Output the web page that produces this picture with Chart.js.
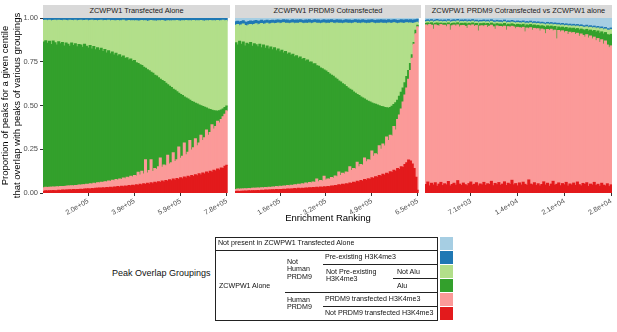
<!DOCTYPE html>
<html>
<head>
<meta charset="utf-8">
<script src="https://cdn.jsdelivr.net/npm/chart.js"></script>
<style>
body { margin: 0; background: #fff; font-family: "Liberation Sans", Arial, sans-serif; }
#fig { position: relative; width: 617px; height: 332px; overflow: hidden; }
canvas { position: absolute; }
.strip { position: absolute; top: 5px; height: 12.5px; background: #d9d9d9; color: #1a1a1a;
         font-size: 7.4px; line-height: 12.5px; text-align: center; white-space: nowrap; }
.t { position: absolute; font-size: 7.1px; line-height: 7.3px; color: #111; white-space: nowrap; }
.h { position: absolute; height: 0; border-top: 1px solid #222; }
.sw { position: absolute; left: 440px; width: 13px; height: 13px; }
</style>
</head>
<body>
<div id="fig">
  <div class="strip" style="left:43px;width:187px;">ZCWPW1 Transfected Alone</div>
  <div class="strip" style="left:235px;width:186px;">ZCWPW1 PRDM9 Cotransfected</div>
  <div class="strip" style="left:425px;width:187px;">ZCWPW1 PRDM9 Cotransfected vs ZCWPW1 alone</div>

  <canvas id="panel1" width="232" height="215" style="left:0;top:10px;"></canvas>
  <canvas id="panel2" width="190" height="215" style="left:233px;top:10px;"></canvas>
  <canvas id="panel3" width="194" height="215" style="left:423px;top:10px;"></canvas>

  <div style="position:absolute;left:228px;width:200px;top:212px;text-align:center;font-size:9.5px;color:#000;">Enrichment Ranking</div>

  <!-- legend table -->
  <div style="position:absolute;left:112px;top:268px;font-size:9px;color:#111;">Peak Overlap Groupings</div>
  <div style="position:absolute;left:215px;top:237px;width:221px;height:82px;border:1px solid #222;"></div>
  <div class="h" style="left:215px;width:222px;top:250px;"></div>
  <div class="h" style="left:323px;width:114px;top:264px;"></div>
  <div class="h" style="left:393px;width:44px;top:278px;"></div>
  <div class="h" style="left:285px;width:152px;top:292px;border-top-width:1.5px;"></div>
  <div class="h" style="left:323px;width:114px;top:306px;"></div>

  <div class="t" style="left:218px;top:240px;">Not present in ZCWPW1 Transfected Alone</div>
  <div class="t" style="left:219px;top:283px;">ZCWPW1 Alone</div>
  <div class="t" style="left:287px;top:259px;">Not<br>Human<br>PRDM9</div>
  <div class="t" style="left:287px;top:297px;">Human<br>PRDM9</div>
  <div class="t" style="left:325px;top:254px;">Pre-existing H3K4me3</div>
  <div class="t" style="left:326px;top:269px;">Not Pre-existing<br>H3K4me3</div>
  <div class="t" style="left:397px;top:269px;">Not Alu</div>
  <div class="t" style="left:397px;top:283px;">Alu</div>
  <div class="t" style="left:325px;top:296px;">PRDM9 transfected H3K4me3</div>
  <div class="t" style="left:325px;top:310px;">Not PRDM9 transfected H3K4me3</div>

  <div class="sw" style="top:237px;background:#a6cee3;"></div>
  <div class="sw" style="top:251px;background:#1f78b4;"></div>
  <div class="sw" style="top:265px;background:#b2df8a;"></div>
  <div class="sw" style="top:279px;background:#33a02c;"></div>
  <div class="sw" style="top:293px;background:#fb9a99;"></div>
  <div class="sw" style="top:307px;background:#e31a1c;"></div>
</div>

<script>
// group names, bottom of the stack first
const groupNames = [
  "Not PRDM9 transfected H3K4me3",
  "PRDM9 transfected H3K4me3",
  "Alu",
  "Not Alu",
  "Pre-existing H3K4me3",
  "Not present in ZCWPW1 Transfected Alone"
];
const groupColors = ["#e31a1c", "#fb9a99", "#33a02c", "#b2df8a", "#1f78b4", "#a6cee3"];

// tick labels of each facet
const p1TickLabels = ["2.0e+05", "3.9e+05", "5.9e+05", "7.8e+05"];
const p2TickLabels = ["1.6e+05", "3.2e+05", "4.9e+05", "6.5e+05"];
const p3TickLabels = ["7.1e+03", "1.4e+04", "2.1e+04", "2.8e+04"];
const xTickCentiles = [25, 50, 75, 100];
const yTickValues = [0, 0.25, 0.5, 0.75, 1];

// centiles 1..100
const centiles = [];
for (let i = 1; i <= 100; i++) centiles.push(i);

// Cumulative tops of each layer, per centile.
// ---- panel 1: ZCWPW1 Transfected Alone
const p1RedTop = [
  .010,.012,.011,.013,.012,.014,.013,.012,.015,.014,
  .016,.015,.017,.016,.018,.017,.019,.018,.020,.019,
  .021,.020,.023,.022,.024,.021,.025,.024,.027,.026,
  .028,.027,.030,.026,.031,.029,.033,.030,.034,.032,
  .036,.033,.038,.035,.040,.037,.042,.039,.044,.041,
  .046,.043,.049,.045,.052,.048,.055,.050,.058,.053,
  .061,.056,.064,.059,.068,.062,.071,.066,.075,.069,
  .079,.073,.083,.077,.087,.081,.091,.085,.095,.089,
  .099,.094,.104,.098,.109,.103,.114,.108,.119,.113,
  .124,.118,.130,.125,.136,.131,.143,.140,.152,.158
];
const p1PinkTop = [
  .030,.032,.031,.033,.032,.034,.033,.035,.034,.036,
  .037,.036,.038,.040,.039,.041,.040,.043,.042,.045,
  .044,.047,.046,.049,.048,.052,.050,.055,.053,.058,
  .056,.061,.059,.064,.062,.068,.065,.072,.069,.076,
  .073,.080,.077,.085,.081,.090,.086,.095,.091,.100,
  .096,.118,.102,.124,.108,.190,.114,.128,.190,.122,
  .140,.134,.150,.200,.146,.160,.155,.215,.165,.172,
  .230,.180,.190,.262,.198,.210,.285,.218,.232,.300,
  .245,.258,.310,.270,.285,.330,.300,.315,.360,.330,
  .345,.390,.365,.380,.410,.400,.420,.435,.450,.470
];
const p1DkGreenTop = [
  .862,.870,.855,.866,.848,.868,.858,.845,.864,.852,
  .860,.840,.856,.850,.838,.857,.842,.852,.835,.848,
  .845,.832,.850,.838,.828,.842,.822,.836,.818,.830,
  .815,.826,.808,.820,.800,.812,.795,.805,.788,.798,
  .782,.790,.775,.782,.768,.773,.760,.765,.752,.756,
  .744,.740,.732,.728,.718,.712,.704,.698,.690,.684,
  .672,.668,.658,.650,.642,.636,.626,.618,.610,.602,
  .592,.586,.578,.570,.562,.556,.548,.542,.536,.530,
  .522,.518,.512,.508,.502,.498,.494,.490,.485,.480,
  .476,.472,.470,.468,.466,.470,.474,.480,.488,.496
];
const p1LtGreenTop = [
  .985,.987,.984,.986,.983,.985,.987,.984,.986,.985,
  .984,.986,.985,.983,.987,.985,.984,.986,.983,.985,
  .986,.984,.985,.987,.983,.985,.986,.984,.985,.982,
  .985,.986,.983,.985,.984,.986,.982,.985,.984,.983,
  .985,.982,.984,.986,.983,.981,.985,.983,.984,.982,
  .984,.981,.983,.985,.982,.984,.980,.983,.985,.982,
  .983,.981,.984,.982,.985,.983,.980,.984,.982,.983,
  .984,.982,.985,.983,.981,.984,.982,.985,.983,.984,
  .982,.985,.983,.984,.982,.985,.983,.981,.984,.983,
  .985,.982,.984,.983,.985,.982,.984,.986,.983,.985
];
const p1DkBlueTop = [
  1,1,1,1,1,1,1,1,1,1, 1,1,1,1,1,1,1,1,1,1,
  1,1,1,1,1,1,1,1,1,1, 1,1,1,1,1,1,1,1,1,1,
  1,1,1,1,1,1,1,1,1,1, 1,1,1,1,1,1,1,1,1,1,
  1,1,1,1,1,1,1,1,1,1, 1,1,1,1,1,1,1,1,1,1,
  1,1,1,1,1,1,1,1,1,1, 1,1,1,1,1,1,1,1,1,1
];

// ---- panel 2: ZCWPW1 PRDM9 Cotransfected
const p2RedTop = [
  .008,.009,.008,.010,.009,.011,.010,.012,.011,.012,
  .013,.012,.014,.013,.015,.014,.016,.015,.017,.016,
  .018,.017,.019,.018,.020,.019,.021,.020,.022,.021,
  .023,.022,.025,.023,.026,.024,.027,.025,.028,.027,
  .029,.028,.031,.029,.032,.030,.034,.031,.035,.033,
  .037,.035,.040,.038,.043,.041,.046,.044,.050,.047,
  .053,.050,.057,.054,.061,.058,.066,.062,.071,.067,
  .076,.072,.081,.077,.087,.083,.093,.089,.099,.095,
  .106,.101,.113,.108,.121,.116,.130,.124,.140,.134,
  .150,.145,.162,.172,.188,.182,.165,.140,.090,.015
];
const p2PinkTop = [
  .020,.022,.021,.023,.022,.024,.023,.025,.024,.026,
  .027,.026,.028,.027,.030,.028,.031,.030,.033,.031,
  .034,.033,.036,.034,.038,.036,.040,.038,.042,.040,
  .044,.042,.047,.045,.050,.047,.053,.050,.056,.053,
  .059,.056,.063,.060,.080,.064,.071,.068,.095,.074,
  .080,.078,.088,.084,.096,.092,.120,.100,.112,.108,
  .120,.116,.150,.128,.140,.136,.175,.150,.162,.158,
  .200,.178,.190,.186,.240,.210,.224,.218,.270,.250,
  .280,.268,.320,.300,.330,.325,.380,.360,.420,.445,
  .480,.520,.560,.600,.650,.700,.770,.850,.910,.950
];
const p2DkGreenTop = [
  .858,.845,.866,.850,.862,.840,.855,.848,.860,.838,
  .852,.846,.835,.850,.830,.845,.826,.840,.822,.834,
  .818,.830,.812,.822,.806,.815,.800,.808,.792,.800,
  .786,.792,.778,.784,.770,.776,.762,.768,.754,.760,
  .746,.748,.736,.738,.726,.724,.714,.710,.702,.696,
  .688,.680,.672,.666,.656,.650,.640,.634,.624,.618,
  .608,.600,.592,.586,.576,.570,.562,.556,.548,.542,
  .536,.530,.524,.520,.514,.510,.506,.502,.498,.494,
  .492,.488,.486,.484,.488,.495,.505,.515,.530,.552,
  .575,.600,.630,.665,.700,.740,.790,.860,.930,.958
];
const p2LtGreenTop = [
  .958,.962,.955,.960,.965,.957,.952,.960,.963,.958,
  .962,.966,.960,.964,.968,.962,.965,.969,.963,.967,
  .970,.966,.968,.971,.967,.969,.972,.968,.970,.966,
  .969,.971,.967,.970,.968,.972,.969,.966,.970,.968,
  .971,.967,.969,.972,.968,.970,.966,.969,.971,.967,
  .970,.968,.972,.969,.967,.971,.968,.970,.966,.969,
  .971,.968,.970,.967,.969,.972,.968,.970,.967,.971,
  .969,.967,.970,.968,.972,.969,.967,.970,.968,.971,
  .968,.970,.967,.971,.969,.968,.972,.970,.967,.969,
  .971,.968,.970,.972,.969,.971,.968,.970,.972,.975
];
const p2DkBlueTop = [
  .978,.981,.976,.980,.984,.977,.974,.980,.983,.979,
  .982,.985,.980,.983,.986,.981,.984,.987,.982,.985,
  .987,.984,.986,.988,.985,.987,.989,.986,.988,.984,
  .987,.989,.985,.988,.986,.989,.987,.984,.988,.986,
  .989,.985,.987,.990,.986,.988,.984,.987,.989,.985,
  .988,.986,.990,.987,.985,.989,.986,.988,.984,.987,
  .989,.986,.988,.985,.987,.990,.986,.988,.985,.989,
  .987,.985,.988,.986,.990,.987,.985,.988,.986,.989,
  .986,.988,.985,.989,.987,.986,.990,.988,.985,.987,
  .989,.986,.988,.990,.987,.989,.986,.988,.990,.992
];

// ---- panel 3: ZCWPW1 PRDM9 Cotransfected vs ZCWPW1 alone
const p3RedTop = [
  .048,.062,.040,.055,.045,.058,.038,.050,.060,.042,
  .052,.046,.065,.040,.048,.055,.044,.070,.050,.043,
  .056,.047,.041,.053,.062,.045,.049,.058,.040,.051,
  .046,.060,.043,.052,.048,.066,.041,.054,.047,.059,
  .044,.050,.063,.042,.055,.048,.072,.046,.053,.040,
  .057,.045,.061,.049,.043,.074,.050,.046,.058,.042,
  .052,.040,.048,.063,.045,.055,.038,.050,.066,.044,
  .049,.057,.041,.053,.046,.060,.039,.051,.045,.056,
  .043,.062,.047,.040,.054,.048,.058,.037,.050,.045,
  .060,.042,.049,.038,.055,.044,.040,.052,.036,.046
];
const p3PinkTop = [
  .960,.955,.962,.958,.935,.960,.956,.952,.962,.957,
  .958,.950,.961,.930,.955,.959,.953,.960,.948,.956,
  .957,.952,.940,.958,.954,.960,.951,.956,.925,.953,
  .955,.950,.957,.945,.952,.958,.949,.935,.954,.950,
  .951,.947,.953,.930,.950,.945,.952,.948,.938,.946,
  .944,.940,.946,.920,.942,.938,.944,.930,.940,.936,
  .938,.925,.936,.932,.910,.934,.928,.935,.926,.930,
  .880,.928,.920,.926,.915,.922,.905,.918,.912,.916,
  .905,.912,.895,.908,.900,.890,.904,.885,.896,.880,
  .890,.870,.882,.860,.875,.850,.868,.845,.830,.840
];
const p3DkGreenTop = [
  .968,.971,.966,.972,.964,.969,.971,.967,.970,.966,
  .969,.965,.971,.962,.968,.970,.966,.972,.964,.969,
  .967,.970,.963,.969,.966,.971,.965,.968,.955,.967,
  .966,.969,.964,.968,.962,.970,.965,.960,.967,.963,
  .965,.961,.968,.958,.964,.960,.966,.962,.957,.963,
  .961,.958,.963,.952,.960,.956,.962,.955,.959,.954,
  .957,.950,.955,.952,.945,.954,.949,.953,.947,.951,
  .935,.948,.943,.947,.940,.945,.936,.942,.938,.941,
  .934,.939,.930,.936,.932,.927,.934,.925,.930,.922,
  .928,.918,.925,.912,.920,.908,.916,.904,.900,.906
];
const p3LtGreenTop = [
  .978,.980,.976,.981,.975,.979,.982,.977,.980,.976,
  .979,.975,.981,.974,.978,.980,.976,.982,.975,.979,
  .977,.980,.974,.979,.976,.981,.975,.978,.972,.977,
  .976,.979,.974,.978,.973,.980,.975,.972,.977,.974,
  .975,.972,.978,.970,.974,.971,.976,.973,.969,.973,
  .971,.969,.973,.966,.970,.967,.972,.966,.969,.965,
  .968,.963,.966,.964,.960,.965,.961,.964,.959,.962,
  .958,.960,.956,.959,.954,.957,.952,.955,.951,.954,
  .950,.953,.948,.951,.947,.945,.949,.943,.946,.941,
  .944,.938,.942,.935,.939,.932,.936,.930,.928,.933
];
const p3DkBlueTop = [
  .986,.989,.984,.990,.983,.987,.991,.985,.988,.984,
  .988,.983,.990,.982,.987,.989,.984,.991,.983,.988,
  .986,.989,.982,.988,.985,.990,.983,.987,.981,.986,
  .985,.988,.982,.987,.981,.989,.984,.980,.986,.982,
  .984,.980,.987,.978,.983,.979,.985,.981,.977,.982,
  .980,.977,.982,.974,.979,.975,.981,.974,.978,.973,
  .977,.971,.975,.972,.968,.974,.969,.973,.967,.971,
  .967,.969,.964,.968,.962,.966,.960,.964,.959,.963,
  .958,.962,.956,.960,.955,.953,.958,.951,.955,.949,
  .953,.946,.951,.943,.948,.940,.945,.938,.936,.942
];

// turn cumulative tops into the height of each stacked layer
function layerHeights(tops) {
  const out = [];
  let prev = tops[0].map(() => 0);
  tops.forEach(top => {
    out.push(top.map((t, i) => Math.max(0, t - prev[i])));
    prev = top;
  });
  out.push(prev.map(t => Math.max(0, 1 - t))); // light blue fills to 1
  return out;
}

Chart.defaults.font.family = '"Liberation Sans", Arial, sans-serif';

function makePanel(id, tops, tickLabels, showY, pad) {
  const layers = layerHeights(tops);
  const datasets = layers.map((vals, k) => ({
    label: groupNames[k],
    data: vals,
    backgroundColor: groupColors[k],
    borderWidth: 0,
    inflateAmount: 0.6, // hide hairline seams between neighbouring bars
    barPercentage: 1,
    categoryPercentage: 1
  }));

  const yAxis = {
    display: showY,
    stacked: true,
    min: 0,
    max: 1,
    afterBuildTicks: axis => {
      axis.ticks = yTickValues.map(v => ({ value: v }));
    },
    ticks: { color: "#4d4d4d", font: { size: 7.5 }, padding: 2, callback: v => v.toFixed(2) },
    grid: { drawOnChartArea: false, tickLength: 3, color: "#333" },
    border: { display: false },
    title: {
      display: true,
      text: ["Proportion of peaks for a given centile", "that overlap with peaks of various groupings"],
      color: "#000",
      font: { size: 9.5 },
      padding: 0
    }
  };
  if (showY) yAxis.afterFit = axis => { axis.width = 43; };

  new Chart(document.getElementById(id), {
    type: "bar",
    data: { labels: centiles, datasets: datasets },
    options: {
      responsive: false,
      animation: false,
      layout: { padding: pad },
      plugins: { legend: { display: false }, tooltip: { enabled: false } },
      scales: {
        x: {
          stacked: true,
          grid: { drawOnChartArea: false, offset: false, tickLength: 3, color: "#333" },
          border: { display: false },
          afterBuildTicks: axis => {
            axis.ticks = xTickCentiles.map(c => ({ value: c - 1 }));
          },
          ticks: {
            autoSkip: false, minRotation: 30, maxRotation: 30, padding: 1,
            color: "#4d4d4d", font: { size: 7 },
            callback: (v, i) => tickLabels[i]
          },
          afterFit: axis => { axis.height = 32; }
        },
        y: yAxis
      }
    }
  });
}

makePanel("panel1", [p1RedTop, p1PinkTop, p1DkGreenTop, p1LtGreenTop, p1DkBlueTop], p1TickLabels, true,
  { top: 8, right: 2, left: 0, bottom: 0 });
makePanel("panel2", [p2RedTop, p2PinkTop, p2DkGreenTop, p2LtGreenTop, p2DkBlueTop], p2TickLabels, false,
  { top: 8, right: 2, left: 2, bottom: 0 });
makePanel("panel3", [p3RedTop, p3PinkTop, p3DkGreenTop, p3LtGreenTop, p3DkBlueTop], p3TickLabels, false,
  { top: 8, right: 5, left: 2, bottom: 0 });
</script>
</body>
</html>
